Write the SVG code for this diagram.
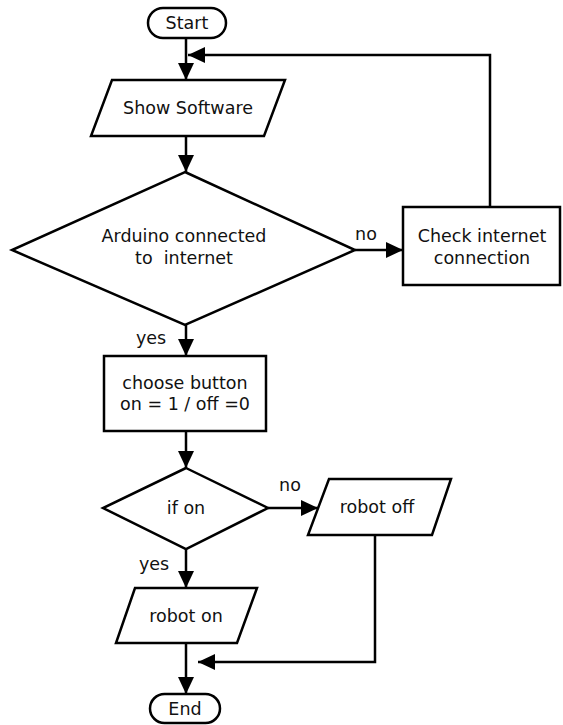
<svg xmlns="http://www.w3.org/2000/svg" width="563" height="725" viewBox="0 0 563 725">
<defs>
<marker id="ah" markerUnits="userSpaceOnUse" markerWidth="18" markerHeight="16" refX="17" refY="8" orient="auto">
<path d="M0,0 L17,8 L0,16 z" fill="#000"/>
</marker>
<style>
.s{fill:#fff;stroke:#000;stroke-width:2.5}
.ca{fill:none;stroke:#000;stroke-width:2.5;marker-end:url(#ah)}
text{font-family:"DejaVu Sans",sans-serif;font-size:17.5px;fill:#111;text-anchor:middle;dominant-baseline:central;white-space:pre}
</style>
</defs>
<rect width="563" height="725" fill="#fff"/>
<g id="connectors">
<path class="ca" d="M186,38 V80"/>
<path class="ca" d="M186,136 V172"/>
<path class="ca" d="M355,250 H403"/>
<path class="ca" d="M490,207 V55 H188"/>
<path class="ca" d="M186,325 V356"/>
<path class="ca" d="M186,431 V468"/>
<path class="ca" d="M268,508 H318"/>
<path class="ca" d="M186,549 V588"/>
<path class="ca" d="M186,643 V694"/>
<path class="ca" d="M375,535 V662 H198"/>
<text x="366" y="234">no</text>
<text x="151" y="338">yes</text>
<text x="290" y="485">no</text>
<text x="154" y="564">yes</text>
</g>
<g id="start">
<rect class="s" x="148" y="8" width="78" height="30" rx="15"/>
<text x="187" y="23">Start</text>
</g>
<g id="show">
<path class="s" d="M112,80 H285 L264,136 H91 Z"/>
<text x="188" y="108">Show Software</text>
</g>
<g id="arduino">
<path class="s" d="M185,172 L355,250 L185,325 L12,250 Z"/>
<text x="184" y="236">Arduino connected</text>
<text x="184" y="258">to  internet</text>
</g>
<g id="check">
<rect class="s" x="403" y="207" width="157" height="78"/>
<text x="482" y="236">Check internet</text>
<text x="482" y="258">connection</text>
</g>
<g id="choose">
<rect class="s" x="104" y="356" width="162" height="75"/>
<text x="185" y="383">choose button</text>
<text x="185" y="404">on = 1 / off =0</text>
</g>
<g id="ifon">
<path class="s" d="M186,468 L268,508 L186,549 L103,508 Z"/>
<text x="186" y="508">if on</text>
</g>
<g id="robotoff">
<path class="s" d="M329,479 H451 L432,535 H308 Z"/>
<text x="377" y="507">robot off</text>
</g>
<g id="roboton">
<path class="s" d="M135,588 H257 L237,643 H116 Z"/>
<text x="186" y="616">robot on</text>
</g>
<g id="end">
<rect class="s" x="150" y="694" width="70" height="29" rx="14.5"/>
<text x="185" y="709">End</text>
</g>
</svg>
